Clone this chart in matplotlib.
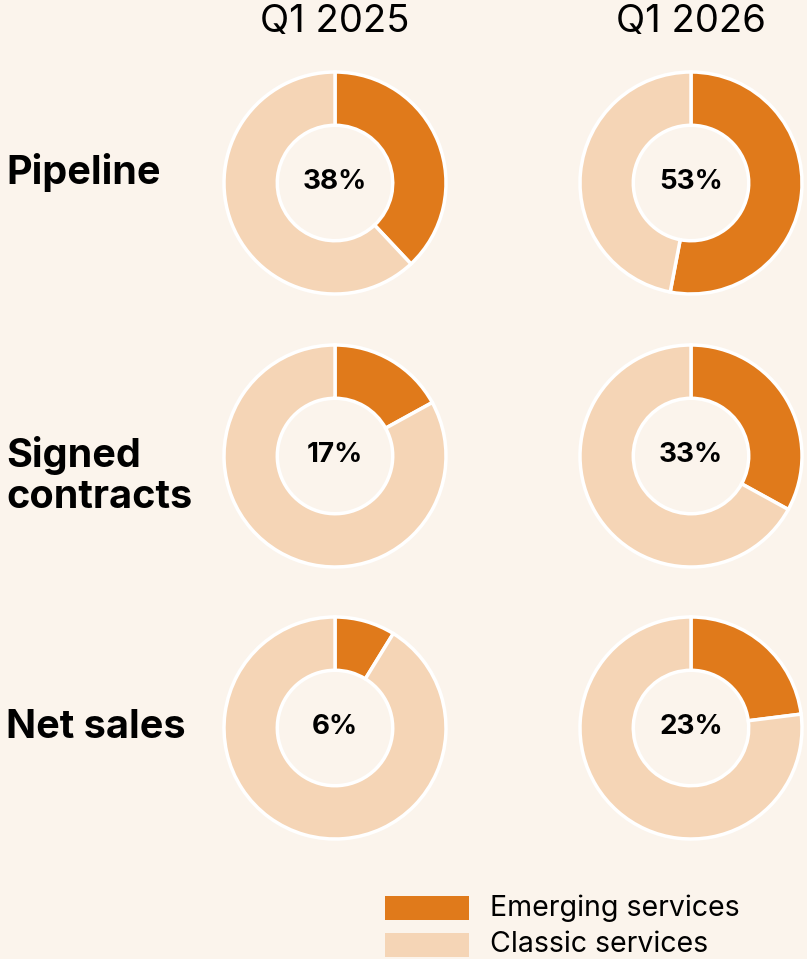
import matplotlib
matplotlib.use("Agg")
import matplotlib.pyplot as plt
from matplotlib.patches import Rectangle

# data
periods=["Q1 2025","Q1 2026"]
metrics=["Pipeline","Signed\ncontracts","Net sales"]
emerging_2025=[38,17,8.8]     #wedge shares as drawn
emerging_2026=[53,33,23]
labels_2025=["38%","17%","6%"]
labels_2026=["53%","33%","23%"]
series_names=["Emerging services","Classic services"]

#styling
bg="#fbf4ec"
col_emerging="#e07a1b"
col_classic="#f5d5b6"
W,H=807,959
col_x=[335,691]
row_y=[183,456,728]
r_out=111
ring=0.48

plt.rcParams['font.family']=['Inter','DejaVu Sans']
fig=plt.figure(figsize=(W/100,H/100),dpi=100,facecolor=bg)
ax=fig.add_axes([0,0,1,1])
ax.set_facecolor(bg)

values=[emerging_2025,emerging_2026]
labels=[labels_2025,labels_2026]
for c in range(2):
    for r in range(3):
        e=values[c][r]
        cx,cy=col_x[c],H-row_y[r]
        ax.pie([e,100-e],colors=[col_emerging,col_classic],startangle=90,counterclock=False,
               center=(cx,cy),radius=r_out,
               wedgeprops=dict(width=r_out*ring,edgecolor="white",linewidth=2.5))
        ax.text(cx,cy+1,labels[c][r],ha="center",va="center",fontsize=20,fontweight="bold",color="black")
    ax.text(col_x[c],H-22,periods[c],ha="center",va="center",fontsize=27.5,color="black")

label_y=[172,476,727]
for r in range(3):
    ax.text(6,H-label_y[r],metrics[r],ha="left",va="center",fontsize=28.5,fontweight="bold",
            color="black",linespacing=1.15)

#legend
for i,(name,col) in enumerate(zip(series_names,[col_emerging,col_classic])):
    y=H-(908+i*37)
    ax.add_patch(Rectangle((385,y-12),84,24,facecolor=col,edgecolor="none"))
    ax.text(490,y,name,ha="left",va="center",fontsize=20.5,color="black")

ax.set_xlim(0,W)
ax.set_ylim(0,H)
ax.set_aspect("auto")
ax.axis("off")
fig.savefig("out.png",dpi=100,facecolor=bg)
